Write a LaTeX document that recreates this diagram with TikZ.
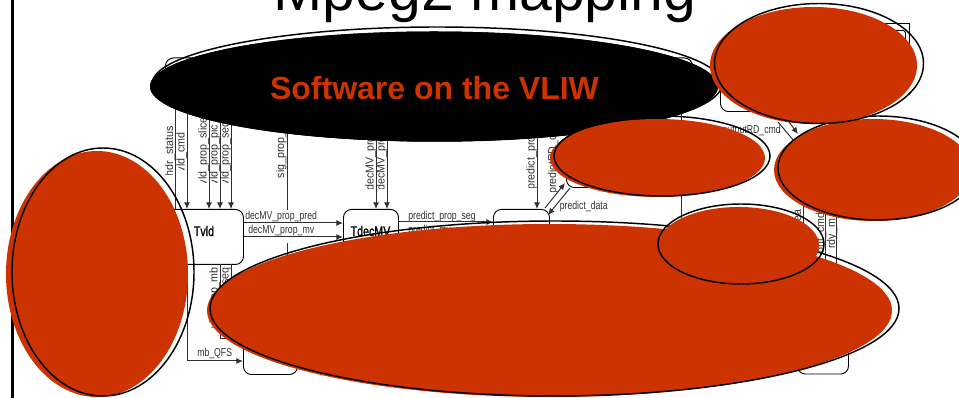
\documentclass[tikz,border=0pt]{standalone}
\usepackage{fontspec}
\setmainfont{Liberation Sans}
\newfontfamily\labfont[FakeStretch=0.76]{Liberation Sans}
\newfontfamily\vlabfont[FakeStretch=0.93]{Liberation Sans}
\newfontfamily\namefont[FakeStretch=0.76,FakeBold=1.2]{Liberation Sans}
\usetikzlibrary{arrows.meta}
\definecolor{blobred}{HTML}{CC3300}
\definecolor{wire}{HTML}{303030}
\tikzset{
  wh/.style 2 args={minimum width=#1*0.75pt, minimum height=#2*0.75pt},
  dbox/.style={draw=black, line width=0.7pt, rounded corners=6pt, fill=white, inner sep=0pt},
  wireline/.style={draw=wire, line width=0.75pt},
  arr/.style={wireline, -{Latex[length=5pt,width=4.5pt]}},
  lab/.style={font=\labfont\fontsize{8.6}{9}\selectfont, text=black!80, inner sep=0pt},
  vlab/.style={font=\vlabfont\fontsize{8.6}{9}\selectfont, text=black!80, inner sep=0pt, rotate=90, anchor=base west},
  vlabtop/.style={vlab, anchor=base east},
  boxname/.style={font=\namefont\fontsize{10.5}{11}\selectfont, inner sep=0pt},
  blobfill/.style={fill=blobred, draw=none},
  blobline/.style={draw=black, line width=1.1pt},
}
% name, x, bottom y, clip y, text
\newcommand{\vtext}[5]{\begin{scope}\clip (#2-8,60) rectangle (#2+4,#4);\node[vlab] (#1) at (#2,#3) {#5};\end{scope}}
\begin{document}
\begin{tikzpicture}[x=0.75pt,y=-0.75pt]
\useasboundingbox (0,0) rectangle (959,398);
\fill[white] (0,0) rectangle (959,398);

% ---- page furniture
\coordinate (railT) at (12.5,0);
\coordinate (railB) at (12.5,398);
\draw[line width=2.3pt,black] (railT) -- (railB);
\node[anchor=base,font=\fontsize{44.2}{48}\selectfont,inner sep=0pt] (title) at (485,11) {Mpeg2 mapping};

% ---- underlying block diagram
\node[dbox,wh={527}{45},anchor=north west] (host) at (165,57.5) {};
\node[dbox,wh={83}{55},anchor=north west] (tvld) at (160,209) {};
\node[boxname] (tvldname) at (204,231) {Tvld};
\node[dbox,wh={55}{56},anchor=north west] (tdec) at (343,209) {};
\node[boxname] (tdecname) at (370.5,231) {TdecMV};
\node[dbox,wh={56}{50},anchor=north west] (tpred) at (493,209) {};
\node[dbox,wh={115}{40},anchor=south west] (trd) at (566,188) {};
\node[dbox,wh={54}{50},anchor=south west] (tqfs) at (243,375) {};
\node[dbox,wh={51}{50},anchor=south west] (tout) at (797,374.5) {};
\node[dbox,wh={109}{46},anchor=north west,rounded corners=0pt] (tframe) at (800,23.5) {};
\node[dbox,wh={105}{40},anchor=north west,rounded corners=2pt] (tinner) at (800,30) {};
\node[dbox,wh={80}{62},anchor=south west] (tdisp) at (720,112) {};

\foreach \n/\x in {a/187,b/209,c/220,d/231}{
  \coordinate (top\n) at (\x,100);
  \draw[arr] (top\n) -- (tvld.north -| top\n);
}
\coordinate (tophdr) at (175.7,100);
\draw[wireline] (tophdr) -- (tvld.north -| tophdr);
\coordinate (sigT) at (287,100);
\coordinate (sigM) at (287,210);
\coordinate (sigN) at (287,243);
\coordinate (sigB) at (287,262);
\draw[wireline] (sigT) -- (sigM);
\draw[wireline] (sigN) -- (sigB);
\foreach \n/\x in {e/376,f/387}{
  \coordinate (top\n) at (\x,100);
  \draw[arr] (top\n) -- (tdec.north -| top\n);
}
\coordinate (topg) at (537,100);
\draw[arr] (topg) -- (tpred.north -| topg);

\coordinate (h1) at (300,223);
\coordinate (h2) at (300,237);
\coordinate (h3) at (440,222);
\coordinate (h4) at (440,237);
\draw[arr] (tvld.east |- h1) -- (tdec.west |- h1);
\draw[arr] (tvld.east |- h2) -- (tdec.west |- h2);
\draw[arr] (tdec.east |- h3) -- (tpred.west |- h3);
\draw[arr] (tdec.east |- h4) -- (tpred.west |- h4);

\coordinate (dA) at (545,208);
\coordinate (dB) at (565,183);
\coordinate (dC) at (570,188);
\coordinate (dD) at (548,215);
\draw[arr] (dA) -- (dB);
\draw[arr] (dC) -- (dD);

\coordinate (rdT) at (681,100);
\coordinate (rdB) at (681,222);
\draw[wireline] (rdT) -- (rdB);

% below Tvld
\coordinate (q1) at (187,264);
\coordinate (q2) at (187,361);
\draw[wireline] (q1) -- (q2);
\draw[arr] (q2) -- (tqfs.west |- q2);
\coordinate (s1) at (220,264);
\coordinate (s2) at (220,339);
\coordinate (s3) at (231,339);
\coordinate (s4) at (231,264);
\draw[wireline] (s1) -- (s2) -- (s3) -- (s4);

% right part
\coordinate (o1) at (778,122);
\coordinate (o2) at (794,141);
\coordinate (o3) at (789,122);
\coordinate (o4) at (798,134);
\draw[wireline] (o1) -- (o2);
\draw[arr] (o3) -- (o4);
\foreach \n/\x in {i/803,j/825,k/836.5}{
  \coordinate (up\n) at (\x,205);
  \draw[wireline] (up\n) -- (\x,330);
}

% labels on the connectors
\vtext{lhdr}{173}{176.5}{174.5}{hdr\_status}
\vtext{lcmd}{184.5}{172.5}{170}{vld\_cmd}
\vtext{lslice}{206.5}{185.5}{183}{vld\_prop\_slice}
\vtext{lpic}{217.5}{185.5}{183}{vld\_prop\_pic}
\vtext{lseq}{228.5}{185.5}{183}{vld\_prop\_seq}
\vtext{lsig}{284}{178.5}{180}{sig\_prop\_mb}
\vtext{ldec}{373.5}{191}{189}{decMV\_prop\_seq}
\vtext{ldeb}{384.5}{191}{189}{decMV\_prop\_mb}
\vtext{lpr}{534.5}{190}{188}{predict\_prop\_seg}
\vtext{lrd}{556}{194}{192}{predictRD\_cmd}
\node[lab,anchor=base west] (ldp) at (245,219.5) {decMV\_prop\_pred};
\node[lab,anchor=base west] (ldm) at (248,234) {decMV\_prop\_mv};
\node[lab,anchor=base west] (lps) at (408,219.5) {predict\_prop\_seg};
\node[lab,anchor=base west] (lpm) at (408,234) {predict\_mv};
\node[lab,anchor=base west] (lpd) at (559.5,210) {predict\_data};
\node[lab,anchor=base west] (lqfs) at (197,357) {mb\_QFS};
\node[lab,anchor=base east] (lord) at (781,134) {outputRD\_cmd};
\node[vlabtop] (lmb) at (217.5,267) {vld\_prop\_mb};
\node[vlabtop] (lsq) at (228.5,267) {vld\_prop\_seq};
\node[vlabtop] (lea) at (801,209) {ea};
\node[vlab] (lcm) at (824,254) {out\_cmd};
\node[vlab] (lrm) at (835,249) {rdy\_m};

% ---- overlaid ellipses
\fill[blobfill] (97,274) ellipse [x radius=91, y radius=123];
\draw[blobline] (103,272) ellipse [x radius=91, y radius=124];

\fill[black] (434,86.5) ellipse [x radius=284, y radius=55];
\draw[blobline] (437,84) ellipse [x radius=285, y radius=57];
\fill[black] (434,86.5) ellipse [x radius=284, y radius=55];
\node[anchor=base,font=\bfseries\fontsize{24}{26}\selectfont,text=blobred,inner sep=0pt] (vliw) at (434.5,100) {Software on the VLIW};

\fill[blobfill] (549.5,310.5) ellipse [x radius=342.5, y radius=86.5];
\draw[blobline] (554.5,308.5) ellipse [x radius=344.5, y radius=87.5];

\fill[blobfill] (657.5,158) ellipse [x radius=107.5, y radius=39];
\draw[blobline] (662,156) ellipse [x radius=108, y radius=40];

\fill[blobfill] (873,170) ellipse [x radius=99, y radius=51];
\draw[blobline] (878,168) ellipse [x radius=100, y radius=52];

\fill[blobfill] (813.5,65.5) ellipse [x radius=103.5, y radius=58.5];
\draw[blobline] (819,63.5) ellipse [x radius=104.5, y radius=60];

\fill[blobfill] (738.5,245.5) ellipse [x radius=80.5, y radius=38.5];
\draw[blobline] (741,244) ellipse [x radius=83, y radius=40];
\end{tikzpicture}
\end{document}
